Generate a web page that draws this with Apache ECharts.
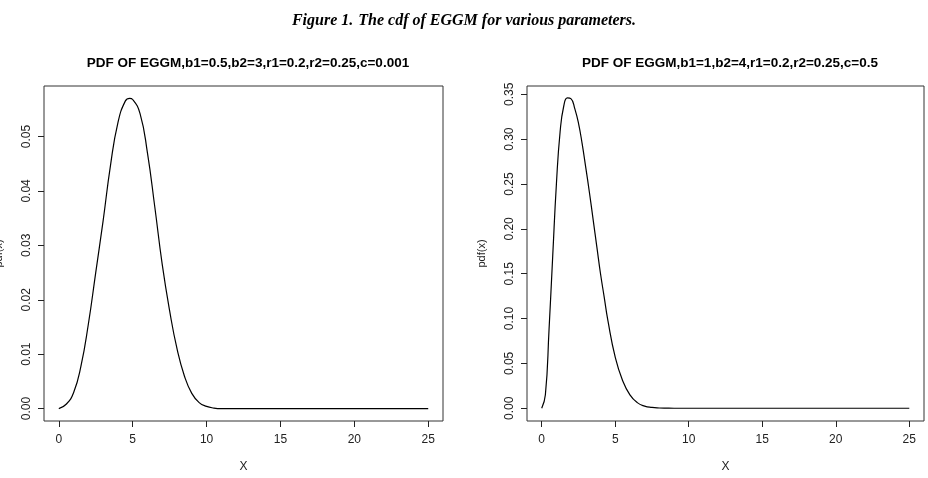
<!DOCTYPE html>
<html>
<head>
<meta charset="utf-8">
<script src="https://cdn.jsdelivr.net/npm/echarts@6/dist/echarts.min.js"></script>
<style>
  html, body { margin: 0; padding: 0; background: #fff; }
  #main { width: 928px; height: 478px; }
</style>
</head>
<body>
<div id="main"></div>
<script>
// 左图数据 (b1=0.5,b2=3,c=0.001)
var xLeft = [0, 0.5, 1, 1.5, 2, 2.5, 3, 3.5, 4, 4.5, 4.8, 5, 5.5, 6, 6.5, 7, 7.5, 8, 8.5, 9, 9.5, 10, 10.5, 11, 15, 20, 25];
var yLeft = [0, 0.0008, 0.0029, 0.0078, 0.0155, 0.0250, 0.0345, 0.0447, 0.0525, 0.0565, 0.0570, 0.0568, 0.0542, 0.0470, 0.0370, 0.0265, 0.0180, 0.0110, 0.0060, 0.0028, 0.0011, 0.0004, 0.0001, 0, 0, 0, 0];

// 右图数据 (b1=1,b2=4,c=0.5)
var xRight = [0, 0.25, 0.5, 0.75, 1, 1.25, 1.5, 1.75, 2, 2.25, 2.5, 2.75, 3, 3.25, 3.5, 3.75, 4, 4.25, 4.5, 5, 5.5, 6, 6.5, 7, 7.5, 8, 8.5, 9, 15, 20, 25];
var yRight = [0, 0.015, 0.088, 0.170, 0.250, 0.308, 0.337, 0.346, 0.345, 0.334, 0.318, 0.295, 0.268, 0.240, 0.210, 0.180, 0.150, 0.124, 0.098, 0.057, 0.031, 0.0150, 0.0063, 0.0024, 0.0009, 0.0003, 0.0001, 0, 0, 0, 0];

var xTicks = [0, 5, 10, 15, 20, 25];
var yTicksLeft = [0, 0.01, 0.02, 0.03, 0.04, 0.05];
var yTicksRight = [0, 0.05, 0.10, 0.15, 0.20, 0.25, 0.30, 0.35];

var titleLeft = 'PDF OF EGGM,b1=0.5,b2=3,r1=0.2,r2=0.25,c=0.001';
var titleRight = 'PDF OF EGGM,b1=1,b2=4,r1=0.2,r2=0.25,c=0.5';

function zip(xs, ys) {
    var out = [];
    for (var i = 0; i < xs.length; i++) {
        out.push([xs[i], ys[i]]);
    }
    return out;
}

var font = '"Liberation Sans", Arial, sans-serif';
var serif = '"Liberation Serif", "Times New Roman", serif';
var ink = '#222';

function makeX(idx) {
    return {
        type: 'value',
        gridIndex: idx,
        position: 'bottom',
        min: -1,
        max: 26,
        name: 'X',
        nameLocation: 'middle',
        nameGap: 40,
        nameTextStyle: { fontFamily: font, fontSize: 12, color: ink },
        axisLine: { show: false, onZero: false },
        splitLine: { show: false },
        axisTick: { show: true, inside: false, length: 6, customValues: xTicks, lineStyle: { color: ink } },
        axisLabel: { customValues: xTicks, margin: 13, fontFamily: font, fontSize: 12, color: ink }
    };
}

function makeY(idx, min, max, ticks, digits) {
    return {
        type: 'value',
        gridIndex: idx,
        position: 'left',
        min: min,
        max: max,
        name: 'pdf(x)',
        nameLocation: 'middle',
        nameGap: 40,
        nameRotate: 90,
        nameTextStyle: { fontFamily: font, fontSize: 11, color: ink },
        axisLine: { show: false, onZero: false },
        splitLine: { show: false },
        axisTick: { show: true, inside: false, length: 6, customValues: ticks, lineStyle: { color: ink } },
        axisLabel: {
            customValues: ticks,
            rotate: 90,
            margin: 11,
            fontFamily: font,
            fontSize: 12,
            color: ink,
            formatter: function (v) { return v.toFixed(digits); }
        }
    };
}

var myChart = echarts.init(document.getElementById('main'), null, { renderer: 'canvas' });

var option = {
    backgroundColor: '#fff',
    animation: false,
    title: [
        {
            text: '{b|Figure 1.} {i|The cdf of EGGM for various parameters.}',
            left: 'center',
            top: 7,
            textStyle: {
                rich: {
                    b: { fontFamily: serif, fontSize: 16, fontStyle: 'italic', fontWeight: 'bold', color: '#000' },
                    i: { fontFamily: serif, fontSize: 16, fontStyle: 'italic', color: '#000' }
                }
            }
        },
        {
            text: titleLeft,
            left: 243,
            textAlign: 'center',
            top: 51,
            textStyle: { fontFamily: font, fontSize: 13.5, fontWeight: 'bold', color: '#000' }
        },
        {
            text: titleRight,
            left: 725,
            textAlign: 'center',
            top: 51,
            textStyle: { fontFamily: font, fontSize: 13.5, fontWeight: 'bold', color: '#000' }
        }
    ],
    grid: [
        { left: 44, top: 86, width: 399, height: 335, show: true, borderColor: '#333', borderWidth: 1, backgroundColor: 'transparent', outerBoundsMode: 'none', containLabel: false },
        { left: 527, top: 86, width: 397, height: 335, show: true, borderColor: '#333', borderWidth: 1, backgroundColor: 'transparent', outerBoundsMode: 'none', containLabel: false }
    ],
    xAxis: [makeX(0), makeX(1)],
    yAxis: [
        makeY(0, -0.00228, 0.05928, yTicksLeft, 2),
        makeY(1, -0.0142, 0.3593, yTicksRight, 2)
    ],
    series: [
        {
            type: 'line',
            xAxisIndex: 0,
            yAxisIndex: 0,
            data: zip(xLeft, yLeft),
            smooth: 0.5,
            showSymbol: false,
            lineStyle: { color: '#000', width: 1.2 }
        },
        {
            type: 'line',
            xAxisIndex: 1,
            yAxisIndex: 1,
            data: zip(xRight, yRight),
            smooth: 0.5,
            showSymbol: false,
            lineStyle: { color: '#000', width: 1.2 }
        }
    ]
};

myChart.setOption(option);
</script>
</body>
</html>
